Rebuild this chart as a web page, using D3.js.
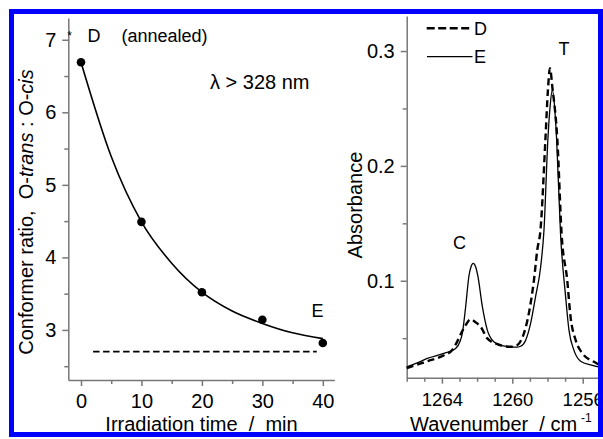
<!DOCTYPE html>
<html>
<head>
<meta charset="utf-8">
<script src="https://cdn.jsdelivr.net/npm/d3@7"></script>
<style>
	body { margin: 0; background: #fff; }
	svg { display: block; font-family: "Liberation Sans", Arial, sans-serif; }
	.axis path, .axis line { stroke: #777; stroke-width: 1.5; }
	.axis text { font-size: 20px; fill: #000; font-family: "Liberation Sans", Arial, sans-serif; }
	.right .xax text { font-size: 18.5px; }
	.lbl { font-size: 18px; fill: #000; }
	.title { font-size: 20px; fill: #000; }
</style>
</head>
<body>
<div class="chart"></div>
<script>
// left panel: conformer ratio vs irradiation time
const times = [0, 10, 20, 30, 40];
const ratios = [6.69, 4.49, 3.52, 3.14, 2.82];
const fitTimes = [0, 5, 10, 15, 20, 25, 30, 35, 40];
const fitRatios = [6.69, 5.39, 4.49, 3.92, 3.52, 3.26, 3.09, 2.96, 2.88];
const limitTimes = [2, 39];
const limitRatios = [2.70, 2.70];
const timeTicks = [0, 10, 20, 30, 40];
const timeMinor = [5, 15, 25, 35];
const ratioTicks = [3, 4, 5, 6, 7];
const ratioMinor = [2.5, 3.5, 4.5, 5.5, 6.5];

// right panel: IR spectra D and E
const waveD = [1266.0, 1265.4, 1264.8, 1263.9, 1263.4, 1263.13, 1262.85, 1262.65, 1262.37, 1262.1, 1261.8, 1261.42, 1260.85, 1260.1, 1259.72, 1259.34, 1259.06, 1258.77, 1258.58, 1258.4, 1258.12, 1257.98, 1257.86, 1257.72, 1257.44, 1257.2, 1256.88, 1256.69, 1256.4, 1256.02, 1255.36, 1255.0];
const absD = [0.024, 0.027, 0.030, 0.035, 0.040, 0.047, 0.056, 0.0614, 0.0664, 0.064, 0.060, 0.0498, 0.0449, 0.0425, 0.044, 0.0542, 0.0716, 0.1006, 0.127, 0.144, 0.2226, 0.265, 0.285, 0.268, 0.2226, 0.141, 0.1006, 0.0686, 0.0483, 0.0368, 0.0294, 0.0262];
const waveE = [1266.0, 1265.4, 1264.83, 1263.89, 1263.22, 1262.95, 1262.84, 1262.65, 1262.47, 1262.35, 1262.22, 1262.08, 1261.95, 1261.7, 1261.42, 1261.05, 1260.6, 1260.1, 1259.75, 1259.53, 1259.24, 1258.96, 1258.68, 1258.39, 1258.2, 1257.98, 1257.85, 1257.73, 1257.6, 1257.48, 1257.26, 1256.97, 1256.78, 1256.5, 1256.12, 1255.5, 1255.0];
const absE = [0.025, 0.0285, 0.0324, 0.0367, 0.0411, 0.048, 0.0542, 0.0774, 0.1035, 0.112, 0.1152, 0.112, 0.1035, 0.0774, 0.057, 0.0469, 0.0435, 0.0425, 0.0422, 0.043, 0.0483, 0.0629, 0.086, 0.112, 0.144, 0.2226, 0.252, 0.266, 0.252, 0.2226, 0.141, 0.086, 0.057, 0.0396, 0.030, 0.0265, 0.0245];
const waveTicks = [1264, 1260, 1256];
const waveMinor = [1266, 1265, 1263, 1262, 1261, 1259, 1258, 1257, 1255];
const absTicks = [0.1, 0.2, 0.3];
const absMinor = [0.05, 0.15, 0.25];

const svg = d3.select(".chart")
	.append("svg")
	.attr("width", 603)
	.attr("height", 439);

// ---------- left panel ----------
const xL = d3.scaleLinear().domain([-2.1, 41.9]).range([68.3, 334.3]);
const yL = d3.scaleLinear().domain([2.31, 7.30]).range([380, 18]);

const left = svg.append("g").attr("class", "left");

left.append("g").attr("class", "axis")
	.attr("transform", "translate(0,380)")
	.call(d3.axisBottom(xL).tickValues(timeTicks).tickSize(6).tickSizeOuter(0).tickPadding(8));
left.append("g").attr("class", "axis")
	.attr("transform", "translate(0,380)")
	.call(d3.axisBottom(xL).tickValues(timeMinor).tickSize(4).tickSizeOuter(0).tickFormat(""))
	.select(".domain").remove();
left.append("g").attr("class", "axis")
	.attr("transform", "translate(68.3,0)")
	.call(d3.axisLeft(yL).tickValues(ratioTicks).tickSize(6).tickSizeOuter(0).tickPadding(6).tickFormat(d3.format("d")));
left.append("g").attr("class", "axis")
	.attr("transform", "translate(68.3,0)")
	.call(d3.axisLeft(yL).tickValues(ratioMinor).tickSize(4).tickSizeOuter(0).tickFormat(""))
	.select(".domain").remove();

left.append("path")
	.datum(d3.zip(limitTimes, limitRatios))
	.attr("fill", "none")
	.attr("stroke", "#000")
	.attr("stroke-width", 1.8)
	.attr("stroke-dasharray", "6.5,3.5")
	.attr("d", d3.line().x((d) => xL(d[0])).y((d) => yL(d[1])));

left.append("path")
	.datum(d3.zip(fitTimes, fitRatios))
	.attr("fill", "none")
	.attr("stroke", "#000")
	.attr("stroke-width", 1.6)
	.attr("d", d3.line().curve(d3.curveMonotoneX).x((d) => xL(d[0])).y((d) => yL(d[1])));

left.selectAll(".pt")
	.data(d3.zip(times, ratios)).enter()
	.append("circle")
	.attr("class", "pt")
	.attr("r", 4.3)
	.attr("cx", (d) => xL(d[0]))
	.attr("cy", (d) => yL(d[1]));

left.append("text").attr("class", "lbl").attr("x", 69.5).attr("y", 40).attr("text-anchor", "middle").style("font-size", "12px").text("*");
left.append("text").attr("class", "lbl").attr("x", 87.5).attr("y", 42).text("D");
left.append("text").attr("class", "lbl").attr("x", 121.5).attr("y", 42).text("(annealed)");
left.append("text").attr("class", "title").attr("x", 210).attr("y", 88.5).text("λ > 328 nm");
left.append("text").attr("class", "lbl").attr("x", 311.5).attr("y", 317).text("E");

left.append("text").attr("class", "title")
	.attr("text-anchor", "middle")
	.attr("x", 201.5).attr("y", 431)
	.style("white-space", "pre")
	.text("Irradiation time  /  min");

const yTitle = left.append("text").attr("class", "title")
	.attr("text-anchor", "middle")
	.style("white-space", "pre")
	.attr("transform", "translate(33,212) rotate(-90)");
yTitle.append("tspan").text("Conformer ratio,  O-");
yTitle.append("tspan").style("font-style", "italic").text("trans");
yTitle.append("tspan").text(" : O-");
yTitle.append("tspan").style("font-style", "italic").text("cis");

// ---------- right panel ----------
const xR = d3.scaleLinear().domain([1266, 1255]).range([406.7, 600.3]);
const yR = d3.scaleLinear().domain([0.0156, 0.3305]).range([377.7, 16]);

const right = svg.append("g").attr("class", "right");

right.append("g").attr("class", "axis xax")
	.attr("transform", "translate(0,377.7)")
	.call(d3.axisBottom(xR).tickValues(waveTicks).tickSize(6).tickSizeOuter(0).tickPadding(9).tickFormat(d3.format("d")));
right.append("g").attr("class", "axis")
	.attr("transform", "translate(0,377.7)")
	.call(d3.axisBottom(xR).tickValues(waveMinor).tickSize(4).tickSizeOuter(0).tickFormat(""))
	.select(".domain").remove();
right.append("g").attr("class", "axis")
	.attr("transform", "translate(406.7,0)")
	.call(d3.axisLeft(yR).tickValues(absTicks).tickSize(6).tickSizeOuter(0).tickPadding(6).tickFormat(d3.format(".1f")));
right.append("g").attr("class", "axis")
	.attr("transform", "translate(406.7,0)")
	.call(d3.axisLeft(yR).tickValues(absMinor).tickSize(4).tickSizeOuter(0).tickFormat(""))
	.select(".domain").remove();

const spec = d3.line().curve(d3.curveMonotoneX).x((d) => xR(d[0])).y((d) => yR(d[1]));

right.append("path")
	.datum(d3.zip(waveD, absD))
	.attr("fill", "none")
	.attr("stroke", "#000")
	.attr("stroke-width", 2.4)
	.attr("stroke-dasharray", "7,4")
	.attr("d", spec);

right.append("path")
	.datum(d3.zip(waveE, absE))
	.attr("fill", "none")
	.attr("stroke", "#000")
	.attr("stroke-width", 1.3)
	.attr("d", spec);

// legend
right.append("line").attr("x1", 426.7).attr("x2", 471.7).attr("y1", 28.3).attr("y2", 28.3)
	.attr("stroke", "#000").attr("stroke-width", 2.4).attr("stroke-dasharray", "8,3.5");
right.append("text").attr("class", "lbl").attr("x", 474).attr("y", 34.5).text("D");
right.append("line").attr("x1", 427).attr("x2", 472.5).attr("y1", 56.7).attr("y2", 56.7)
	.attr("stroke", "#000").attr("stroke-width", 1.3);
right.append("text").attr("class", "lbl").attr("x", 474).attr("y", 63.3).text("E");

right.append("text").attr("class", "lbl").attr("x", 564).attr("y", 55).attr("text-anchor", "middle").text("T");
right.append("text").attr("class", "lbl").attr("x", 459.5).attr("y", 248.5).attr("text-anchor", "middle").text("C");

right.append("text").attr("class", "title")
	.attr("text-anchor", "middle")
	.attr("transform", "translate(362,205) rotate(-90)")
	.text("Absorbance");

const xTitle = right.append("text").attr("class", "title")
	.attr("x", 410).attr("y", 431)
	.style("white-space", "pre");
xTitle.append("tspan").text("Wavenumber  / cm");
xTitle.append("tspan").attr("dy", -9).attr("dx", 4).style("font-size", "12px").text("-1");

// blue frame
svg.append("rect")
	.attr("x", 11.5).attr("y", 11.5)
	.attr("width", 589).attr("height", 423)
	.attr("fill", "none")
	.attr("stroke", "#0000ff")
	.attr("stroke-width", 5);
</script>
</body>
</html>
